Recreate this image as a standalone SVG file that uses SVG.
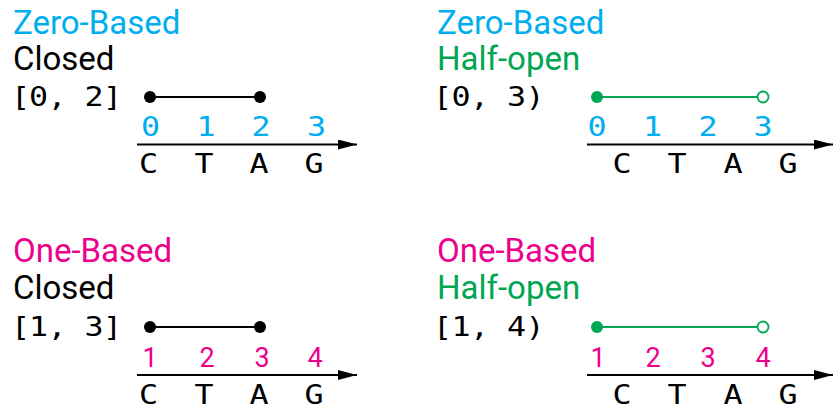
<svg xmlns="http://www.w3.org/2000/svg" width="834" height="412" viewBox="0 0 834 412">
<defs>
<style>
.h{font-family:Roboto,"Liberation Sans",sans-serif;font-size:33px}
.m{font-family:"DejaVu Sans Mono","Liberation Mono",monospace;font-size:26px;text-anchor:middle}
.r{font-family:Roboto,"Liberation Sans",sans-serif;font-size:27px;text-anchor:middle}
.blue{fill:#00AEEF}.green{fill:#00A651}.pink{fill:#EC008C}.black{fill:#000}
.axis{stroke:#000;stroke-width:2;fill:none}
.ik{stroke:#000;stroke-width:2}
.ig{stroke:#00A651;stroke-width:2}
</style>
<marker id="arr" markerUnits="userSpaceOnUse" markerWidth="20" markerHeight="12" refX="19" refY="5" orient="auto">
<path d="M0,0 L19,5 L0,10 z" fill="#000"/>
</marker>
</defs>
<rect width="834" height="412" fill="#fff"/>

<g id="connectors">
<line class="axis" x1="137" y1="144.5" x2="357" y2="144.5" marker-end="url(#arr)"/>
<line class="axis" x1="587" y1="144.5" x2="833" y2="144.5" marker-end="url(#arr)"/>
<line class="axis" x1="137" y1="375" x2="357" y2="375" marker-end="url(#arr)"/>
<line class="axis" x1="587" y1="375" x2="833" y2="375" marker-end="url(#arr)"/>
<line class="ik" x1="150" y1="97" x2="260" y2="97"/>
<line class="ig" x1="597" y1="97" x2="757" y2="97"/>
<line class="ik" x1="150" y1="327" x2="260" y2="327"/>
<line class="ig" x1="597" y1="327" x2="757" y2="327"/>
</g>

<g id="zero-closed">
<text class="h blue" x="13" y="34">Zero-Based</text>
<text class="h black" x="13" y="70">Closed</text>
<text class="m black" transform="scale(1.22,1)" x="16.80 31.56 46.72 61.89 77.05 92.21" y="106.5">[0, 2]</text>
<circle cx="150" cy="97" r="6" fill="#000"/>
<circle cx="260" cy="97" r="6" fill="#000"/>
<text class="m blue" transform="scale(1.22,1)" x="123.36 168.85 213.93 259.43" y="136">0123</text>
<text class="m black" transform="scale(1.22,1)" x="121.72 167.21 212.30 257.38" y="173.5">CTAG</text>
</g>

<g id="zero-halfopen">
<text class="h blue" x="437" y="34">Zero-Based</text>
<text class="h green" x="437" y="70">Half-open</text>
<text class="m black" transform="scale(1.22,1)" x="362.70 377.87 393.03 408.20 423.36 438.52" y="106.5">[0, 3)</text>
<circle cx="597" cy="97" r="6" fill="#00A651"/>
<circle cx="763" cy="97" r="5.5" fill="#fff" stroke="#00A651" stroke-width="1.8"/>
<text class="m blue" transform="scale(1.22,1)" x="489.34 534.84 580.33 625.41" y="136">0123</text>
<text class="m black" transform="scale(1.22,1)" x="509.84 554.92 600.82 645.90" y="173.5">CTAG</text>
</g>

<g id="one-closed">
<text class="h pink" x="13" y="262">One-Based</text>
<text class="h black" x="13" y="299">Closed</text>
<text class="m black" transform="scale(1.22,1)" x="16.80 31.56 46.72 61.89 77.05 92.21" y="336">[1, 3]</text>
<circle cx="150" cy="327" r="6" fill="#000"/>
<circle cx="260" cy="327" r="6" fill="#000"/>
<text class="r pink" x="150 207 262 315" y="366.5">1234</text>
<text class="m black" transform="scale(1.22,1)" x="121.72 167.21 212.30 257.38" y="404">CTAG</text>
</g>

<g id="one-halfopen">
<text class="h pink" x="437" y="262">One-Based</text>
<text class="h green" x="437" y="299">Half-open</text>
<text class="m black" transform="scale(1.22,1)" x="362.70 377.87 393.03 408.20 423.36 438.52" y="336">[1, 4)</text>
<circle cx="597" cy="327" r="6" fill="#00A651"/>
<circle cx="763" cy="327" r="5.5" fill="#fff" stroke="#00A651" stroke-width="1.8"/>
<text class="r pink" x="598 653 708 763" y="366.5">1234</text>
<text class="m black" transform="scale(1.22,1)" x="509.84 554.92 600.82 645.90" y="404">CTAG</text>
</g>
</svg>
